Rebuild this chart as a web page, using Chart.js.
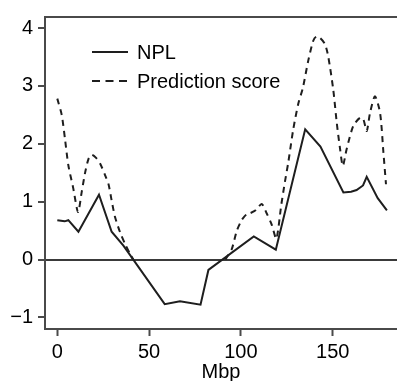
<!DOCTYPE html>
<html>
<head>
<meta charset="utf-8">
<script src="https://cdn.jsdelivr.net/npm/chart.js@4"></script>
<style>
  html, body { margin: 0; padding: 0; background: #fff; overflow: hidden; }
  #wrap { width: 397px; height: 381px; position: relative; }
</style>
</head>
<body>
<div id="wrap"><canvas id="c"></canvas></div>
<script>
// ---- data ----
const nplX = [0, 4, 6, 11.5, 22.7, 29.6, 36, 58.5, 66.8, 78, 82.3, 107, 119, 135, 143.3, 155.8, 160, 163, 166.5, 168.5, 174.5, 179.5];
const nplY = [0.68, 0.66, 0.68, 0.48, 1.12, 0.48, 0.24, -0.77, -0.72, -0.78, -0.18, 0.40, 0.17, 2.25, 1.95, 1.16, 1.17, 1.20, 1.28, 1.43, 1.06, 0.85];

const predX = [0, 2.4, 4.2, 6, 8.7, 11.3, 13.3, 15.2, 17, 18.7, 21, 23.3, 26, 27.9, 29.6, 31.4, 34.2, 36.9, 39.6, 41.4,
               66, 91.5, 95, 97.7, 100.4, 103, 105, 108, 111.3, 114, 116.8, 119.3, 122, 124, 125.8, 128.5, 131.3, 133.7,
               136.7, 139.4, 141, 143, 145.8, 147.6, 150.3, 152.2, 154, 155.5, 157.6, 161.2, 164.9, 166.7, 168.5, 170.3,
               173, 175.8, 177.6, 179];
const predY = [2.78, 2.5, 2.08, 1.63, 1.23, 0.82, 1.17, 1.51, 1.74, 1.81, 1.76, 1.66, 1.46, 1.3, 1.02, 0.74, 0.47, 0.27, 0.1, 0,
               null, 0, 0.18, 0.49, 0.68, 0.78, 0.8, 0.85, 0.96, 0.8, 0.6, 0.36, 0.95, 1.35, 1.68, 2.25, 2.7, 2.96,
               3.44, 3.78, 3.85, 3.83, 3.72, 3.5, 2.93, 2.36, 1.91, 1.62, 1.91, 2.31, 2.45, 2.42, 2.22, 2.53,
               2.82, 2.53, 1.85, 1.3];

const seriesLabels = ['NPL', 'Prediction score'];
const xTicks = [0, 50, 100, 150];
const yTicks = [-1, 0, 1, 2, 3, 4];
const xTitle = 'Mbp';

const toPts = (xs, ys) => xs.map((x, i) => ({ x: x, y: ys[i] }));

const FONT = '"Liberation Sans", Arial, Helvetica, sans-serif';
const INK = '#1e1e1e';
const AXIS = '#4a4a4a';

const frameAndLegend = {
  id: 'frameAndLegend',
  afterDraw(chart) {
    const ctx = chart.ctx;
    const a = chart.chartArea;
    ctx.save();
    // top frame line
    ctx.strokeStyle = AXIS;
    ctx.lineWidth = 2;
    ctx.beginPath();
    ctx.moveTo(a.left - 1, a.top);
    ctx.lineTo(a.right, a.top);
    ctx.stroke();
    // legend
    const rows = [52, 81];
    chart.data.datasets.forEach((ds, i) => {
      const y = rows[i];
      ctx.strokeStyle = ds.borderColor;
      ctx.lineWidth = ds.borderWidth;
      ctx.setLineDash(ds.borderDash ? [8, 5.5] : []);
      ctx.beginPath();
      ctx.moveTo(92, y);
      ctx.lineTo(128, y);
      ctx.stroke();
      ctx.setLineDash([]);
      ctx.fillStyle = '#000';
      ctx.font = '20px ' + FONT;
      ctx.textBaseline = 'middle';
      ctx.textAlign = 'left';
      ctx.fillText(ds.label, 137, y + 1);
    });
    ctx.restore();
  }
};

new Chart(document.getElementById('c'), {
  type: 'line',
  data: {
    datasets: [
      { label: seriesLabels[0], data: toPts(nplX, nplY), borderColor: INK, borderWidth: 2, pointRadius: 0, tension: 0, fill: false },
      { label: seriesLabels[1], data: toPts(predX, predY), borderColor: INK, borderWidth: 2, borderDash: [6, 5], pointRadius: 0, tension: 0.25, fill: false, spanGaps: false }
    ]
  },
  options: {
    responsive: true,
    maintainAspectRatio: false,
    animation: false,
    layout: { padding: { top: 12, right: 0, left: 0, bottom: 0 } },
    plugins: { legend: { display: false }, tooltip: { enabled: false } },
    scales: {
      x: {
        type: 'linear',
        min: -6.7,
        max: 185,
        afterBuildTicks: (s) => { s.ticks = xTicks.map(v => ({ value: v })); },
        afterFit: (s) => { s.height = 52; },
        ticks: { color: '#000', font: { family: FONT, size: 20 }, padding: 4, maxRotation: 0 },
        grid: { display: true, drawOnChartArea: false, drawTicks: true, tickLength: 7, tickColor: AXIS, tickWidth: 2 },
        border: { display: true, color: AXIS, width: 2 },
        title: { display: true, text: xTitle, color: '#000', font: { family: FONT, size: 20, lineHeight: 0.85 }, padding: 0 }
      },
      y: {
        min: -1.2,
        max: 4.19,
        afterBuildTicks: (s) => { s.ticks = yTicks.map(v => ({ value: v })); },
        afterFit: (s) => { s.width = 45; },
        ticks: { color: '#000', font: { family: FONT, size: 20 }, padding: 5,
                 callback: (v) => String(v).replace('-', '\u2212') },
        grid: { display: true, drawOnChartArea: true, drawTicks: true, tickLength: 7, tickWidth: 2, tickColor: AXIS,
                lineWidth: 2, color: (c) => (c.tick && c.tick.value === 0) ? '#3a3a3a' : 'rgba(0,0,0,0)' },
        border: { display: true, color: AXIS, width: 2 }
      }
    }
  },
  plugins: [frameAndLegend]
});
</script>
</body>
</html>
